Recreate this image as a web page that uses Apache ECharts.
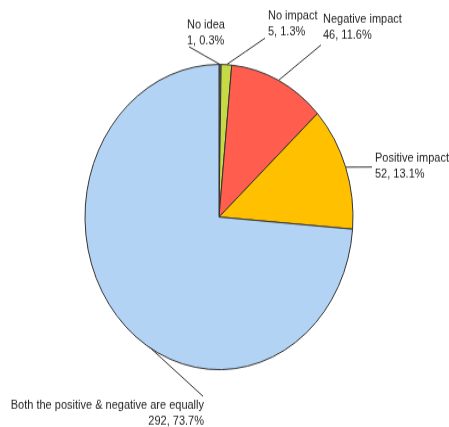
<!DOCTYPE html>
<html>
<head>
<meta charset="utf-8">
<script src="https://cdn.jsdelivr.net/npm/echarts@6/dist/echarts.min.js"></script>
<style>
    html { overflow: hidden; }
    html, body { margin: 0; padding: 0; background: #fff; height: 427px; }
    /* the source picture is stretched vertically, so the chart is too */
    #chart { width: 449px; height: 375px; transform: scaleY(1.1387); transform-origin: 0 0; }
</style>
</head>
<body>
<div id="chart"></div>
<script>
    // 数据
    var categories = ['No idea', 'No impact', 'Negative impact', 'Positive impact', 'Both the positive & negative are equally'];
    var counts = [1, 5, 46, 52, 292];
    var percents = ['0.3%', '1.3%', '11.6%', '13.1%', '73.7%'];
    var colors = ['#808080', '#c6da45', '#ff5e4e', '#ffc000', '#b3d3f5'];

    // label placement (chart px, before the vertical stretch)
    var labelAt = [[187, 28.5, 'left'], [268, 21, 'left'], [323, 23.5, 'left'], [375, 145.5, 'left'], [204, 362.5, 'right']];
    var lineEnd = [[189, 41], [265, 33.5], [321, 39.5], [372, 146.7], [203, 348]];

    var chart = echarts.init(document.getElementById('chart'));

    var pieData = [];
    for (var i = 0; i < categories.length; i++) {
        pieData.push({
            name: categories[i],
            value: counts[i],
            per: percents[i],
            itemStyle: { color: colors[i] }
        });
    }

    var option = {
        animation: false,
        series: [{
            type: 'pie',
            center: [219, 190.6],
            radius: 134,
            startAngle: 90,
            clockwise: true,
            avoidLabelOverlap: false,
            itemStyle: {
                borderColor: '#333',
                borderWidth: 1
            },
            label: {
                show: true,
                position: 'outside',
                color: '#1e1e1e',
                fontFamily: 'Liberation Sans',
                fontSize: 11,
                lineHeight: 14,
                overflow: 'none',
                formatter: function(p) {
                    return p.name + '\n' + p.value + ', ' + p.data.per;
                }
            },
            labelLine: {
                show: true,
                maxSurfaceAngle: 180,
                lineStyle: { color: '#333', width: 1 }
            },
            labelLayout: function(p) {
                var k = p.dataIndex;
                var start = p.labelLinePoints ? p.labelLinePoints[0] : lineEnd[k];
                var mid = [(start[0] + lineEnd[k][0]) / 2, (start[1] + lineEnd[k][1]) / 2];
                return {
                    x: labelAt[k][0],
                    y: labelAt[k][1],
                    align: labelAt[k][2],
                    verticalAlign: 'middle',
                    width: 260,
                    labelLinePoints: [start, mid, lineEnd[k]]
                };
            },
            emphasis: { disabled: true },
            data: pieData
        }]
    };

    chart.setOption(option);
</script>
</body>
</html>
